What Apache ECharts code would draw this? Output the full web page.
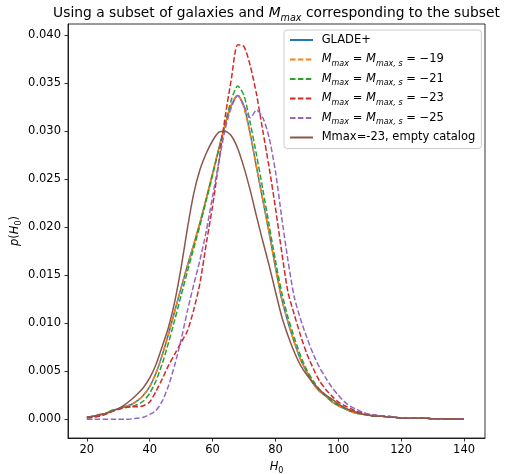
<!DOCTYPE html>
<html><head><meta charset="utf-8">
<script src="https://cdn.jsdelivr.net/npm/echarts@6/dist/echarts.min.js"></script>
<style>html,body{margin:0;padding:0;background:#fff}#c{width:505px;height:474px}</style>
</head><body><div id="c"></div>
<script>
// H0 grid
const H0 = [20,22,24,26,28,30,32,34,36,38,40,42,44,46,48,50,52,54,56,58,60,62,64,66,68,70,72,74,76,78,80,82,84,86,88,90,92,94,96,98,100,102,104,106,108,110,112,114,116,118,120,122,124,126,128,130,132,134,136,138,140];
const tail = [0.0001,0.0001,0.0001,0.0001,0.0001,0.00005,0.00005,0.00003,0.00002,0.00001,0.0];
const glade = [0.0002,0.0003,0.0004,0.0006,0.0009,0.0011,0.0013,0.0015,0.0019,0.0025,
  0.0034,0.0048,0.0067,0.0089,0.0113,0.0137,0.0160,0.0182,0.0205,0.0230,
  0.0256,0.0282,0.0307,0.0327,0.0337,0.0326,0.0297,0.0262,0.0228,0.0194,
  0.0158,0.0125,0.0101,0.0080,0.0062,0.0049,0.0037,0.0029,0.0024,0.0018,
  0.0014,0.0011,0.0008,0.0006,0.0005,0.0004,0.0003,0.0003,0.0002,0.0002].concat(tail);
const m19 = [0.0002,0.0003,0.0004,0.0006,0.0009,0.0011,0.0013,0.0015,0.0019,0.0025,
  0.0034,0.0048,0.0067,0.0089,0.0113,0.0137,0.0160,0.0182,0.0205,0.0230,
  0.0256,0.0282,0.0307,0.0328,0.0338,0.0324,0.0296,0.0262,0.0228,0.0194,
  0.0158,0.0125,0.0101,0.0080,0.0062,0.0049,0.0037,0.0029,0.0024,0.0018,
  0.0014,0.0011,0.0008,0.0006,0.0005,0.0004,0.0003,0.0003,0.0002,0.0002].concat(tail);
const m21 = [0.0002,0.0003,0.0004,0.0006,0.0009,0.0011,0.0012,0.0013,0.0015,0.0019,
  0.0027,0.0040,0.0058,0.0080,0.0104,0.0129,0.0154,0.0178,0.0202,0.0228,
  0.0254,0.0281,0.0308,0.0333,0.0347,0.0337,0.0308,0.0275,0.0239,0.0202,
  0.0165,0.0132,0.0106,0.0085,0.0066,0.0051,0.0040,0.0031,0.0025,0.0019,
  0.0015,0.0011,0.0009,0.0007,0.0005,0.0004,0.0003,0.0003,0.0002,0.0002].concat(tail);
const m23 = [0.0001,0.0002,0.0003,0.0005,0.0008,0.0010,0.0012,0.0013,0.0013,0.0014,
  0.0018,0.0029,0.0042,0.0056,0.0068,0.0080,0.0092,0.0114,0.0142,0.0183,
  0.0222,0.0268,0.0315,0.0355,0.0390,0.0388,0.0368,0.0338,0.0300,0.0262,
  0.0220,0.0174,0.0132,0.0109,0.0087,0.0068,0.0053,0.0040,0.0031,0.0024,
  0.0018,0.0014,0.0011,0.0008,0.0006,0.0005,0.0004,0.0003,0.0003,0.0002].concat(tail);
const m25 = [0,0,0,0,0,0,0,0.00003,0.0001,0.0002,
  0.0005,0.0009,0.0019,0.0035,0.0057,0.0083,0.0113,0.0140,0.0166,0.0196,
  0.0232,0.0268,0.0302,0.0325,0.0337,0.0326,0.0314,0.0322,0.0314,0.0293,
  0.0258,0.0210,0.0165,0.0127,0.0104,0.0085,0.0068,0.0054,0.0043,0.0033,
  0.0025,0.0018,0.0013,0.0010,0.0007,0.0005,0.0004,0.0003,0.0003,0.0002].concat(tail);
const empty = [0.0002,0.0003,0.0005,0.0006,0.0008,0.0011,0.0015,0.0020,0.0026,0.0033,
  0.0043,0.0057,0.0076,0.0096,0.0123,0.0158,0.0199,0.0235,0.0260,0.0277,
  0.0290,0.0299,0.0300,0.0295,0.0282,0.0262,0.0238,0.0211,0.0185,0.0160,
  0.0133,0.0107,0.0087,0.0070,0.0056,0.0046,0.0038,0.0031,0.0025,0.0021,
  0.0016,0.0012,0.0009,0.0007,0.0005,0.0004,0.0003,0.0003,0.0002,0.0002].concat(tail);
const xTicks = [20,40,60,80,100,120,140];
const yTicks = [0,0.005,0.010,0.015,0.020,0.025,0.030,0.035,0.040];

const FONT = 'DejaVu Sans';
const FS = 11.5;
const pair = a => H0.map((h,i)=>[h,a[i]]);
const dash = [5.5,2.4];
function line(name, data, color, dashed){
  return {name, type:'line', data:pair(data), symbol:'none', smooth:0.25,
    lineStyle:{color, width:1.5, type: dashed?dash:'solid'}, itemStyle:{color}};
}
const labelMap = {
  'M19':'{i|M}{s|max}{n| = }{i|M}{s|max, s}{n| = −19}',
  'M21':'{i|M}{s|max}{n| = }{i|M}{s|max, s}{n| = −21}',
  'M23':'{i|M}{s|max}{n| = }{i|M}{s|max, s}{n| = −23}',
  'M25':'{i|M}{s|max}{n| = }{i|M}{s|max, s}{n| = −25}'
};
const rich = {
  n:{fontFamily:FONT,fontSize:FS,color:'#000',lineHeight:16},
  i:{fontFamily:FONT,fontSize:FS,fontStyle:'italic',color:'#000',lineHeight:16},
  s:{fontFamily:FONT,fontSize:8,fontStyle:'italic',color:'#000',lineHeight:8,verticalAlign:'bottom'},
  r:{fontFamily:FONT,fontSize:8,color:'#000',lineHeight:8,verticalAlign:'bottom'}
};
const chart = echarts.init(document.getElementById('c'), null, {renderer:'canvas'});
chart.setOption({
  animation:false,
  backgroundColor:'#fff',
  graphic:[{type:'text', x:276.5, y:4, style:{
    text:'{n|Using a subset of galaxies and }{i|M}{s|max}{n| corresponding to the subset}',
    align:'center', rich:{
      n:{fontFamily:FONT,fontSize:13.8,color:'#000',lineHeight:19},
      i:{fontFamily:FONT,fontSize:13.8,fontStyle:'italic',color:'#000',lineHeight:19},
      s:{fontFamily:FONT,fontSize:9.6,fontStyle:'italic',color:'#000',lineHeight:9,verticalAlign:'bottom'}
    }}}],
  grid:{left:68,right:20,top:24,bottom:36,show:true,borderColor:'#000',borderWidth:0.8,containLabel:false,outerBoundsMode:'none'},
  legend:{
    orient:'vertical', left:284, top:30, padding:[2,6,3,5], itemGap:3.5,
    itemWidth:23, itemHeight:14,
    itemStyle:{opacity:0},
    backgroundColor:'rgba(255,255,255,0.8)', borderColor:'#cccccc', borderWidth:1, borderRadius:3,
    data:['GLADE+','M19','M21','M23','M25','Mmax=-23, empty catalog'],
    formatter: name => labelMap[name] ? ' '+labelMap[name] : '{n| '+name+'}',
    textStyle:{fontFamily:FONT,fontSize:FS,color:'#000',lineHeight:16,rich}
  },
  xAxis:{type:'value', min:14, max:146.67,
    name:'{i|H}{r|0}', nameLocation:'middle', nameGap:20,
    nameTextStyle:{rich:{i:{fontFamily:FONT,fontSize:FS,fontStyle:'italic',color:'#000',lineHeight:16},
      r:{fontFamily:FONT,fontSize:8,color:'#000',lineHeight:8,verticalAlign:'bottom'}}},
    axisLine:{show:true,onZero:false,lineStyle:{color:'#000',width:0.8}},
    axisTick:{show:true,length:3.5,inside:false,lineStyle:{color:'#000',width:0.8},customValues:xTicks},
    axisLabel:{customValues:xTicks,margin:6,color:'#000',fontFamily:FONT,fontSize:FS},
    splitLine:{show:false}},
  yAxis:{type:'value', min:-0.00196, max:0.04116,
    name:'{i|p}{n|(}{i|H}{r|0}{n|)}', nameLocation:'middle', nameGap:45, nameRotate:90, nameMoveOverlap:false,
    nameTextStyle:{rich:{i:{fontFamily:FONT,fontSize:FS,fontStyle:'italic',color:'#000',lineHeight:16},
      n:{fontFamily:FONT,fontSize:FS,color:'#000',lineHeight:16},
      r:{fontFamily:FONT,fontSize:8,color:'#000',lineHeight:8,verticalAlign:'bottom'}}},
    axisLine:{show:true,onZero:false,lineStyle:{color:'#000',width:0.8}},
    axisTick:{show:true,length:3.5,inside:false,lineStyle:{color:'#000',width:0.8},customValues:yTicks},
    axisLabel:{customValues:yTicks,margin:7,color:'#000',fontFamily:FONT,fontSize:FS,formatter:v=>v.toFixed(3)},
    splitLine:{show:false}},
  series:[
    line('GLADE+', glade, '#1f77b4', false),
    line('M19', m19, '#ff7f0e', true),
    line('M21', m21, '#2ca02c', true),
    line('M23', m23, '#d62728', true),
    line('M25', m25, '#9467bd', true),
    line('Mmax=-23, empty catalog', empty, '#8c564b', false)
  ]
});
</script></body></html>
